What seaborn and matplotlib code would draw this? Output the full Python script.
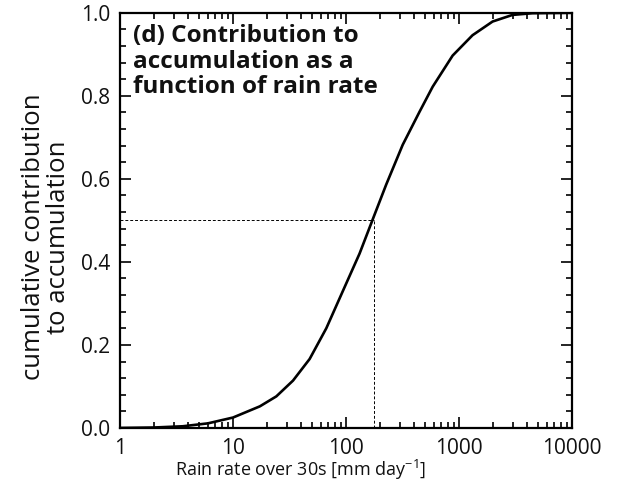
import numpy as np
import pandas as pd
import matplotlib
matplotlib.use("Agg")
import matplotlib.pyplot as plt
from matplotlib.ticker import FixedLocator, FixedFormatter, LogLocator, MultipleLocator, NullFormatter
import seaborn as sns

# Data
rain_rate = [1, 2, 3.6, 6, 10, 17.3, 24.2, 34, 47.7, 67, 94, 132, 173, 227, 318,
             447, 586, 880, 1320, 1986, 2985, 4470, 10000]
cum_contrib = [0.0, 0.001, 0.004, 0.011, 0.025, 0.052, 0.076, 0.114, 0.166, 0.240,
               0.330, 0.420, 0.503, 0.586, 0.682, 0.761, 0.822, 0.897, 0.946, 0.979,
               0.995, 0.999, 1.0]
median_rate = 177
median_frac = 0.5
x_ticks = [1, 10, 100, 1000, 10000]
x_ticklabels = ["1", "10", "100", "1000", "10000"]
y_ticks = [0.0, 0.2, 0.4, 0.6, 0.8, 1.0]
y_ticklabels = ["0.0", "0.2", "0.4", "0.6", "0.8", "1.0"]

sns.set_theme(style="ticks")
plt.rcParams['font.family'] = ['Open Sans', 'DejaVu Sans']

df = pd.DataFrame({"rate": rain_rate, "frac": cum_contrib})

fig = plt.figure(figsize=(6.25, 4.93), dpi=100)
ax = fig.add_axes([0.192, 0.132, 0.723, 0.842])

sns.lineplot(data=df, x="rate", y="frac", ax=ax, color="black", linewidth=1.9)
ax.set_xscale("log")
ax.set_xlim(1, 10000)
ax.set_ylim(0, 1.0)

ax.plot([1, median_rate], [median_frac, median_frac], ls=(0, (3, 2)), color="black", lw=0.7)
ax.plot([median_rate, median_rate], [0, median_frac], ls=(0, (3, 2)), color="black", lw=0.7)

ax.xaxis.set_major_locator(FixedLocator(x_ticks))
ax.xaxis.set_major_formatter(FixedFormatter(x_ticklabels))
ax.xaxis.set_minor_locator(LogLocator(base=10, subs=np.arange(2, 10)))
ax.xaxis.set_minor_formatter(NullFormatter())
ax.yaxis.set_major_locator(FixedLocator(y_ticks))
ax.yaxis.set_major_formatter(FixedFormatter(y_ticklabels))
ax.yaxis.set_minor_locator(MultipleLocator(0.04))

ax.tick_params(which="both", direction="in", top=True, right=True, width=1.2, color="black")
ax.tick_params(which="major", length=8, labelsize=15, pad=7, labelcolor="#111111")
ax.tick_params(which="minor", length=4)
for s in ax.spines.values():
    s.set_linewidth(1.6)
    s.set_color("black")

ax.set_xlabel("Rain rate over 30s [mm day$^{\\mathregular{-1}}$]", fontsize=13, color="#111111")
ax.xaxis.set_label_coords(0.40, -0.072)
ax.set_ylabel("cumulative contribution\nto accumulation", fontsize=18.5, linespacing=1.0,
              color="#111111")
ax.yaxis.set_label_coords(-0.108, 0.46)

ax.text(0.029, 0.972, "(d) Contribution to\naccumulation as a\nfunction of rain rate",
        transform=ax.transAxes, ha="left", va="top", fontsize=17.5, fontweight="bold",
        linespacing=1.08, color="#111111")

fig.savefig("out.png", dpi=100)
